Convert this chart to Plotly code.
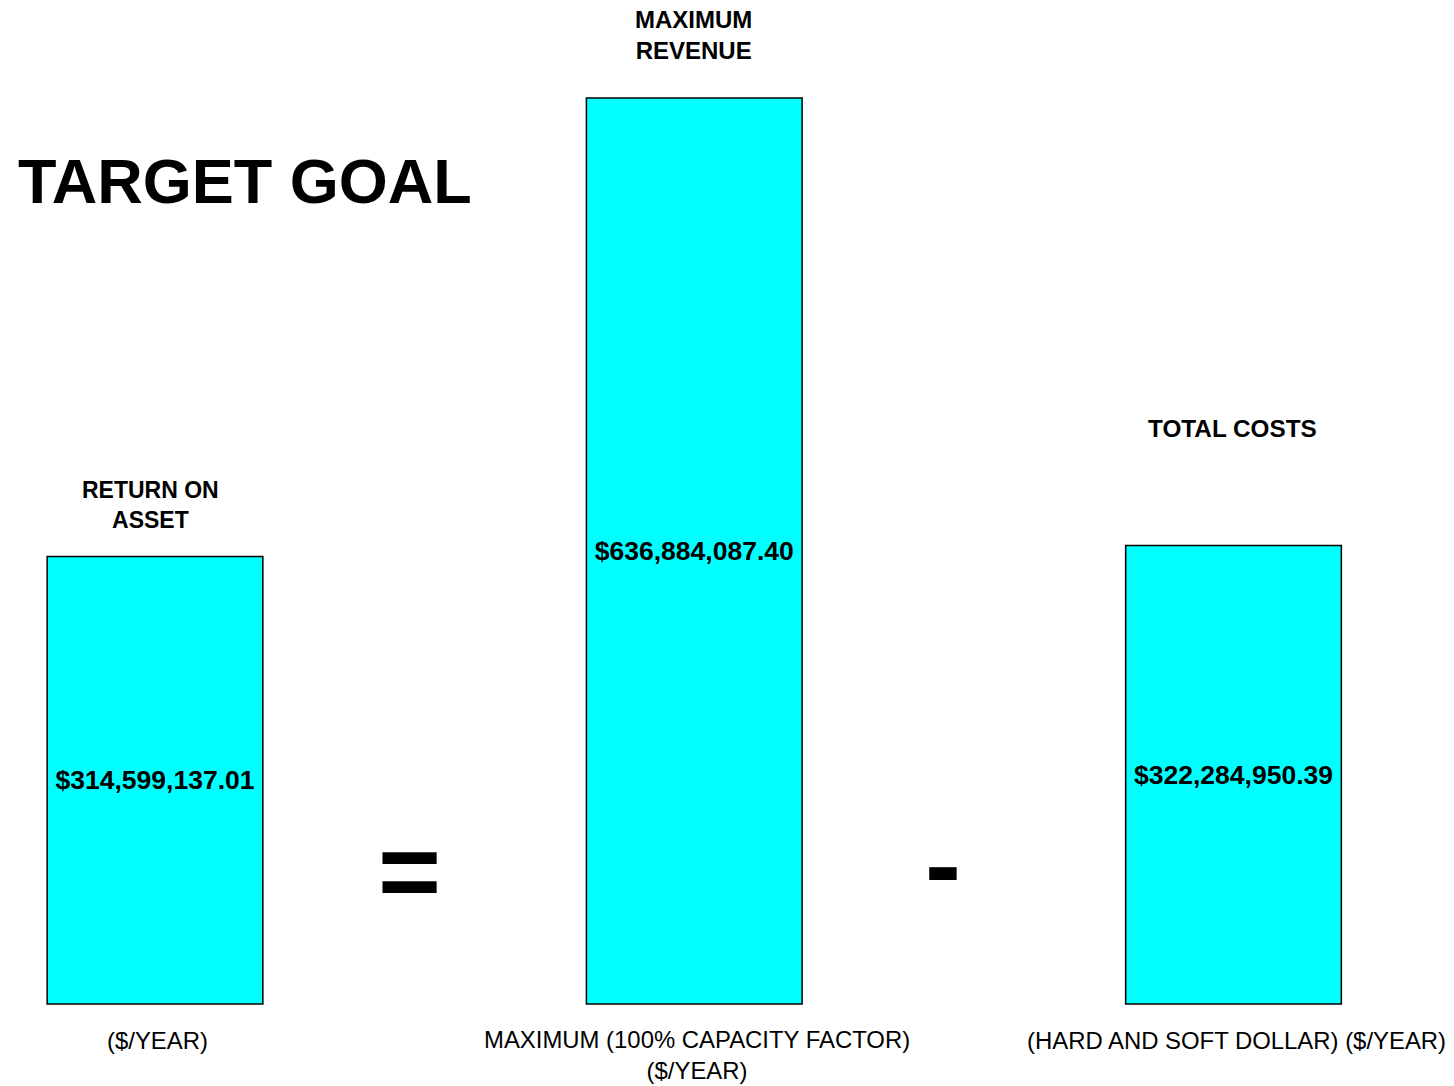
import plotly.graph_objects as go

W, H = 1454, 1086
OFF = 8  # page body margin: figure is drawn 8px from page top-left

categories = ["RETURN ON ASSET", "MAXIMUM REVENUE", "TOTAL COSTS"]
values = [314599137.01, 636884087.40, 322284950.39]
value_labels = ["$314,599,137.01", "$636,884,087.40", "$322,284,950.39"]
top_labels = ["RETURN ON<br>ASSET", "MAXIMUM<br>REVENUE", "TOTAL COSTS"]
bottom_labels = ["($/YEAR)", "MAXIMUM (100% CAPACITY FACTOR)<br>($/YEAR)", "(HARD AND SOFT DOLLAR) ($/YEAR)"]
operators = ["=", "-"]

FONT = "Liberation Sans, Arial, sans-serif"

# page pixel -> paper coords
def px(x):
    return (x - OFF) / W

def py(y):
    return 1 - (y - OFF) / H

x_pos = [0, 1, 2]
spacing_px = 539.25
c0 = 155 - OFF           # centre of first bar in figure pixels
base = 1004 - OFF        # baseline in figure pixels
x_left = -c0 / spacing_px
x_right = (W - c0) / spacing_px
per_px = values[1] / 906.0
y_min = -(H - base) * per_px
y_max = base * per_px

fig = go.Figure()
fig.add_trace(go.Bar(
    x=x_pos, y=values, width=0.4,
    marker=dict(color="#00FFFF", line=dict(color="black", width=1.5)),
    text=value_labels, textposition="inside", insidetextanchor="middle",
    constraintext="none",
    textfont=dict(family=FONT, size=26.5, color="black", weight="bold"),
    hoverinfo="skip",
))

annotations = []
def ann(text, x, y, size, xanchor="center", yanchor="middle"):
    annotations.append(dict(text=text, x=px(x), y=py(y), xref="paper", yref="paper",
                            xanchor=xanchor, yanchor=yanchor,
                            font=dict(family=FONT, size=size, color="black"), showarrow=False))

ann("<b>TARGET GOAL</b>", 16, 181, 63, xanchor="left")
top_pos = [(150, 505, 23), (693, 35, 24), (1232, 428, 24.3)]
for t, (xx, yy, sz) in zip(top_labels, top_pos):
    ann(f"<b>{t}</b>", xx, yy, sz)
bot_pos = [(157.5, 1040), (696.5, 1055), (1236, 1040)]
for t, (xx, yy) in zip(bottom_labels, bot_pos):
    ann(t, xx, yy, 23.9)
op_pos = [(409.5, 870.5), (942.5, 864)]
for t, (xx, yy) in zip(operators, op_pos):
    ann(f"<b>{t}</b>", xx, yy, 108)
ann("<b>D</b>", 1376, 1072, 60, xanchor="left", yanchor="top")

fig.update_layout(
    width=W, height=H,
    margin=dict(l=0, r=0, t=0, b=0),
    paper_bgcolor="white", plot_bgcolor="white",
    showlegend=False,
    xaxis=dict(range=[x_left, x_right], visible=False, fixedrange=True),
    yaxis=dict(range=[y_min, y_max], visible=False, fixedrange=True),
    annotations=annotations,
)

fig.write_html("out.html")
